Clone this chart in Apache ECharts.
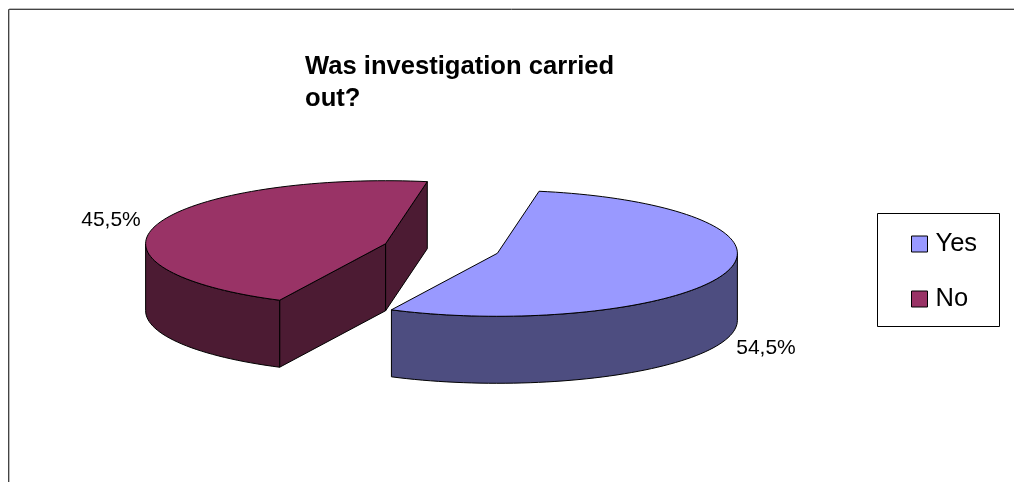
<!DOCTYPE html>
<html><head><meta charset="utf-8">
<style>html,body{margin:0;padding:0;background:#fff}#c{width:1014px;height:482px}</style>
<script src="https://cdn.jsdelivr.net/npm/echarts@6/dist/echarts.min.js"></script>
</head><body><div id="c"></div>
<script>
const categories = ['Yes', 'No'];
const shares = [54.5, 45.5];
const labelsText = ['54,5%', '45,5%'];
const topColors = ['#9999ff', '#993366'];
const sideColors = ['#4d4d80', '#4c1b33'];
const titleText = 'Was investigation carried\nout?';

const FONT = '"Liberation Sans", Arial, sans-serif';
const geo = {cx: 441.5, cy: 248.5, rx: 240, ry: 63, depth: 67, explode: 0.245, startDeg: 10};
const labelPos = [{x: 766, y: 348}, {x: 111, y: 220}];

const total = shares.reduce((a, b) => a + b, 0);
function sliceAngles(i) {
  let a = geo.startDeg;
  for (let k = 0; k < i; k++) a += shares[k] / total * 360;
  return [a, a + shares[i] / total * 360];
}
function rim(cx, cy, deg) {
  const t = deg * Math.PI / 180;
  return [cx + geo.rx * Math.sin(t), cy - geo.ry * Math.cos(t)];
}
function arcPts(cx, cy, a0, a1) {
  const pts = [], n = Math.max(2, Math.round((a1 - a0) / 2));
  for (let k = 0; k <= n; k++) pts.push(rim(cx, cy, a0 + (a1 - a0) * k / n));
  return pts;
}
const down = p => [p[0], p[1] + geo.depth];

function renderSlice(i) {
  const [a0, a1] = sliceAngles(i);
  const mid = (a0 + a1) / 2 * Math.PI / 180;
  const cx = geo.cx + geo.explode * geo.rx * Math.sin(mid);
  const cy = geo.cy - geo.explode * geo.ry * Math.cos(mid);
  const apex = [cx, cy];
  const arc = arcPts(cx, cy, a0, a1);
  const kids = [];
  const edge = {stroke: '#000', lineWidth: 1, lineJoin: 'round'};
  const wall = pts => kids.push({type: 'polygon', shape: {points: pts},
    style: Object.assign({fill: sideColors[i]}, edge)});
  const n = arc.length - 1;
  if (i === 1) {
    wall([apex, arc[0], down(arc[0]), down(apex)]);
    wall([apex, arc[n], down(arc[n]), down(apex)]);
  }
  const f0 = Math.max(a0, 90), f1 = Math.min(a1, 270);
  if (f1 > f0) {
    const front = arcPts(cx, cy, f0, f1);
    wall(front.concat(front.map(down).reverse()));
  }
  kids.push({type: 'polygon', shape: {points: [apex].concat(arc)},
    style: Object.assign({fill: topColors[i]}, edge)});
  kids.push({type: 'text', style: {text: labelsText[i], x: labelPos[i].x, y: labelPos[i].y,
    align: 'center', verticalAlign: 'middle', font: '21px ' + FONT, fill: '#000'}});
  return {type: 'group', children: kids};
}

const chart = echarts.init(document.getElementById('c'), null, {renderer: 'canvas'});
chart.setOption({
  backgroundColor: '#fff',
  animation: false,
  title: {text: titleText, left: 305, top: 51, padding: 0,
    textStyle: {fontFamily: FONT, fontSize: 25.6, fontWeight: 'bold', color: '#000', lineHeight: 32}},
  legend: {
    orient: 'vertical', left: 911, top: 231, padding: 0,
    itemGap: 29, itemWidth: 16, itemHeight: 16,
    icon: 'rect',
    itemStyle: {borderColor: '#000', borderWidth: 1},
    textStyle: {fontFamily: FONT, fontSize: 25.5, color: '#000', padding: [0, 0, 0, 3]},
    data: categories
  },
  xAxis: {show: false, min: 0, max: 1}, yAxis: {show: false, min: 0, max: 1},
  grid: {left: 0, right: 0, top: 0, bottom: 0},
  graphic: [
    {type: 'polyline', silent: true, shape: {points: [[9.5, 482], [9.5, 8.5], [1014, 8.5]]},
      style: {stroke: '#bbb', lineWidth: 1, fill: null}},
    {type: 'polyline', silent: true, shape: {points: [[8.5, 482], [8.5, 9.5], [1014, 9.5]]},
      style: {stroke: '#444', lineWidth: 1, fill: null}},
    {type: 'rect', silent: true, shape: {x: 877.5, y: 213.5, width: 122, height: 113},
      style: {stroke: '#000', lineWidth: 1, fill: null}}
  ],
  series: categories.map((name, i) => ({
    type: 'custom', name, coordinateSystem: 'none', silent: true,
    itemStyle: {color: topColors[i]},
    data: [shares[i]],
    renderItem: () => renderSlice(i)
  })).reverse()
});
</script></body></html>
